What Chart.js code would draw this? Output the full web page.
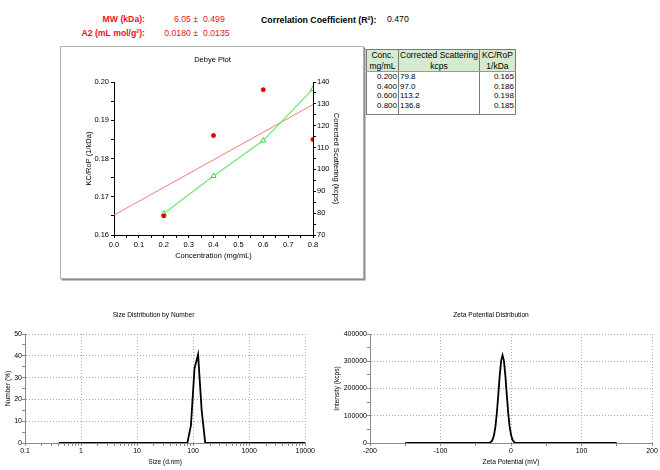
<!DOCTYPE html>
<html><head><meta charset="utf-8">
<script src="https://cdn.jsdelivr.net/npm/chart.js@4.4.0/dist/chart.umd.min.js"></script>
<style>
body{margin:0;width:660px;height:470px;background:#fff;position:relative;overflow:hidden;font-family:'Liberation Sans',Arial,sans-serif;}
.abs{position:absolute;white-space:nowrap;line-height:1;}
.red{color:#e8141c}
.b{font-weight:bold}
canvas{position:absolute;}
#box{position:absolute;left:60px;top:46px;width:302px;height:231px;border:1px solid #b4b4b4;box-shadow:1.5px 1.5px 0 #8c8c8c;}
#tbl{position:absolute;left:366px;top:49px;border-collapse:collapse;border:1px solid #7a7a7a;font-family:'Liberation Sans',Arial,sans-serif;}
#tbl td,#tbl th{padding:0 1px;border-left:1px solid #7a7a7a;border-right:1px solid #7a7a7a;white-space:nowrap;overflow:hidden;}
#tbl th{background:#d4ebcf;font-weight:normal;font-size:8.5px;line-height:10.5px;text-align:center;border-bottom:1px solid #9a9a9a;}
#tbl td{font-size:8px;line-height:9.5px;height:9.5px;}
</style></head><body>
<div class="abs red b" style="right:515px;top:14.5px;font-size:8.7px;">MW (kDa):</div>
<div class="abs red b" style="right:515px;top:28.5px;font-size:8.7px;">A2 (mL mol/g²):</div>
<div class="abs red" style="right:462px;top:14.5px;font-size:8.7px;">6.05 ±</div>
<div class="abs red" style="left:203px;top:14.5px;font-size:8.7px;">0.499</div>
<div class="abs red" style="right:462px;top:28.5px;font-size:8.7px;">0.0180 ±</div>
<div class="abs red" style="left:203px;top:28.5px;font-size:8.7px;">0.0135</div>
<div class="abs b" style="left:261px;top:15.5px;font-size:8.8px;">Correlation Coefficient (R²):</div>
<div class="abs" style="left:387px;top:14.5px;font-size:8.7px;">0.470</div>

<div id="box"></div>
<canvas id="debye" width="303" height="232" style="left:61px;top:47px;"></canvas>
<table id="tbl"></table>
<canvas id="size" width="316" height="170" style="left:0px;top:300px;"></canvas>
<canvas id="zeta" width="330" height="170" style="left:330px;top:300px;"></canvas>

<script>
// ---- Debye plot data ----
const concentrations = [0.2, 0.4, 0.6, 0.8];
const correctedScattering = [79.8, 97.0, 113.2, 136.8];
const kcRoP = [0.165, 0.186, 0.198, 0.185];
const fitConc = [0.0, 0.8];
const fitKcRoP = [0.1652, 0.1941];
const concLabels = ['0.200', '0.400', '0.600', '0.800'];

// ---- Size distribution data ----
const sizeNm = [0.4, 78.8, 91.3, 105.7, 122.4, 141.8, 164.2, 10000];
const sizeNumber = [0, 0, 8.1, 34.2, 40.6, 15.0, 0, 0];

// ---- Zeta potential data ----
const zetaMv = [-150, -30, -28, -26, -24, -22, -20, -18, -16, -14, -12, -10, -8, -6, -4, -2, 0, 2, 4, 6, 8, 150];
const zetaIntensity = [0, 1500, 4700, 12600, 29800, 61600, 111800, 177600, 247200, 301400, 322000, 301400, 247200, 177600, 111800, 61600, 29800, 12600, 4700, 1500, 0, 0];

Chart.defaults.font.family = "'Liberation Sans', Arial, sans-serif";
Chart.defaults.color = '#000';
Chart.defaults.animation = false;

const near = (v, step) => Math.abs(v / step - Math.round(v / step)) < 1e-6;
const pts = (xs, ys) => xs.map((x, i) => ({x: x, y: ys[i]}));

// ---- table ----
(function () {
  const t = document.getElementById('tbl');
  let h = '<tr><th style="width:29px">Conc.<br>mg/mL</th><th style="width:77px">Corrected Scattering<br>kcps</th><th style="width:33px">KC/RoP<br>1/kDa</th></tr>';
  concLabels.forEach((c, i) => {
    h += '<tr><td style="text-align:right">' + c + '</td><td style="text-align:left">' + correctedScattering[i].toFixed(1) +
      '</td><td style="text-align:right">' + kcRoP[i].toFixed(3) + '</td></tr>';
  });
  h += '<tr><td style="height:4px"></td><td style="height:4px"></td><td style="height:4px"></td></tr>';
  t.innerHTML = h;
})();

// ---- Debye chart ----
new Chart(document.getElementById('debye'), {
  type: 'scatter',
  data: {datasets: [
    {data: pts(fitConc, fitKcRoP), showLine: true, borderColor: '#f07a7a', borderWidth: 1, pointRadius: 0, yAxisID: 'y', order: 3},
    {data: pts(concentrations, correctedScattering), showLine: true, borderColor: '#70e670', borderWidth: 1.2,
      pointStyle: 'triangle', pointRadius: 3, pointBackgroundColor: '#ffffff', pointBorderColor: '#40d040', pointBorderWidth: 1, yAxisID: 'y2', order: 2},
    {data: pts(concentrations, kcRoP), showLine: false, pointRadius: 2.2, pointBorderWidth: 0.5, pointBackgroundColor: '#e00000', pointBorderColor: '#e00000', yAxisID: 'y', order: 1}
  ]},
  options: {
    responsive: false, animation: false,
    layout: {padding: 0},
    plugins: {legend: {display: false}, tooltip: {enabled: false},
      title: {display: true, text: 'Debye Plot', color: '#000', font: {size: 7.5, weight: 'normal'}, padding: {top: 8, bottom: 18}}},
    scales: {
      x: {type: 'linear', min: 0, max: 0.8, afterFit: s => { s.height = 44; },
        ticks: {stepSize: 0.05, autoSkip: false, maxRotation: 0, padding: 2, font: {size: 7.5}, callback: v => near(v, 0.1) ? v.toFixed(1) : ''},
        grid: {drawOnChartArea: false, tickLength: 3, tickColor: '#000'}, border: {color: '#000'},
        title: {display: true, text: 'Concentration (mg/mL)', font: {size: 7.5}, padding: {top: 0, bottom: 18.5}}},
      y: {position: 'left', min: 0.16, max: 0.20, afterFit: s => { s.width = 53; },
        ticks: {stepSize: 0.005, autoSkip: false, padding: 2, font: {size: 7.5}, callback: v => near(v, 0.01) ? v.toFixed(2) : ''},
        grid: {drawOnChartArea: false, tickLength: 3, tickColor: '#000'}, border: {color: '#000'},
        title: {display: true, text: 'KC/RoP (1/kDa)', font: {size: 7.5}, padding: {top: 23.5, bottom: 0}}},
      y2: {position: 'right', min: 70, max: 140, afterFit: s => { s.width = 51; },
        ticks: {stepSize: 5, autoSkip: false, padding: 1, font: {size: 7.5}, callback: v => near(v, 10) ? String(v) : ''},
        grid: {drawOnChartArea: false, tickLength: 3, tickColor: '#000'}, border: {color: '#000'},
        title: {display: true, text: 'Corrected Scattering (kcps)', font: {size: 7.5}, padding: {top: 23.5, bottom: 0}}}
    }
  }
});

const isDecade = v => v > 0 && Math.abs(Math.log10(v) - Math.round(Math.log10(v))) < 1e-9;
const isSig15 = v => { const e = Math.floor(Math.log10(v) + 1e-9); return Math.abs(v / Math.pow(10, e) - 1.5) < 1e-6; };
const gridGray = '#a8a8a8';
const axisGray = '#8a8a8a';

// ---- Size distribution chart ----
new Chart(document.getElementById('size'), {
  type: 'scatter',
  data: {datasets: [
    {data: pts(sizeNm, sizeNumber), showLine: true, borderColor: '#000', borderWidth: 1.8, pointRadius: 0}
  ]},
  options: {
    responsive: false, animation: false,
    layout: {padding: {left: 0, right: 9, top: 0, bottom: 0}},
    plugins: {legend: {display: false}, tooltip: {enabled: false},
      title: {display: true, text: 'Size Distribution by Number', color: '#000', font: {size: 6.6, weight: 'normal'}, padding: {top: 11, bottom: 15.1}}},
    scales: {
      x: {type: 'logarithmic', min: 0.1, max: 10000, afterFit: s => { s.height = 27; },
        ticks: {autoSkip: false, maxRotation: 0, padding: 1, font: {size: 7}, callback: v => isDecade(v) ? String(v) : ''},
        grid: {tickLength: 3, color: c => isDecade(c.tick.value) ? gridGray : 'rgba(0,0,0,0)',
          tickColor: c => isSig15(c.tick.value) ? 'rgba(0,0,0,0)' : axisGray},
        border: {color: axisGray, dash: [1, 2]},
        title: {display: true, text: 'Size (d.nm)', font: {size: 6.6}, padding: {top: 0, bottom: 4.2}}},
      y: {min: 0, max: 50, afterFit: s => { s.width = 25; },
        ticks: {stepSize: 5, autoSkip: false, padding: 0, font: {size: 7}, callback: v => near(v, 10) ? String(v) : ''},
        grid: {tickLength: 3, color: c => (near(c.tick.value, 10) && c.tick.value > 0) ? gridGray : 'rgba(0,0,0,0)', tickColor: axisGray},
        border: {color: axisGray, dash: [1, 2]},
        title: {display: true, text: 'Number (%)', font: {size: 6.6}, padding: {top: 4.2, bottom: 0}}}
    }
  }
});

// ---- Zeta potential chart ----
new Chart(document.getElementById('zeta'), {
  type: 'scatter',
  data: {datasets: [
    {data: pts(zetaMv, zetaIntensity), showLine: true, borderColor: '#000', borderWidth: 1.8, pointRadius: 0}
  ]},
  options: {
    responsive: false, animation: false,
    layout: {padding: {left: 0, right: 8, top: 0, bottom: 0}},
    plugins: {legend: {display: false}, tooltip: {enabled: false},
      title: {display: true, text: 'Zeta Potential Distribution', color: '#000', font: {size: 6.6, weight: 'normal'}, padding: {top: 11, bottom: 15.1}}},
    scales: {
      x: {type: 'linear', min: -200, max: 200, afterFit: s => { s.height = 27; },
        ticks: {stepSize: 50, autoSkip: false, maxRotation: 0, padding: 1, font: {size: 7}, callback: v => near(v, 100) ? String(v) : ''},
        grid: {tickLength: 3, color: c => (near(c.tick.value, 100) && c.tick.value > -200) ? gridGray : 'rgba(0,0,0,0)', tickColor: axisGray},
        border: {color: axisGray, dash: [1, 2]},
        title: {display: true, text: 'Zeta Potential (mV)', font: {size: 6.6}, padding: {top: 0, bottom: 4.2}}},
      y: {min: 0, max: 400000, afterFit: s => { s.width = 40; },
        ticks: {stepSize: 50000, autoSkip: false, padding: 0, font: {size: 7}, callback: v => near(v, 100000) ? String(v) : ''},
        grid: {tickLength: 3, color: c => (near(c.tick.value, 100000) && c.tick.value > 0) ? gridGray : 'rgba(0,0,0,0)', tickColor: axisGray},
        border: {color: axisGray, dash: [1, 2]},
        title: {display: true, text: 'Intensity (kcps)', font: {size: 6.6}, padding: {top: 3.2, bottom: 0}}}
    }
  }
});
</script>
</body></html>
